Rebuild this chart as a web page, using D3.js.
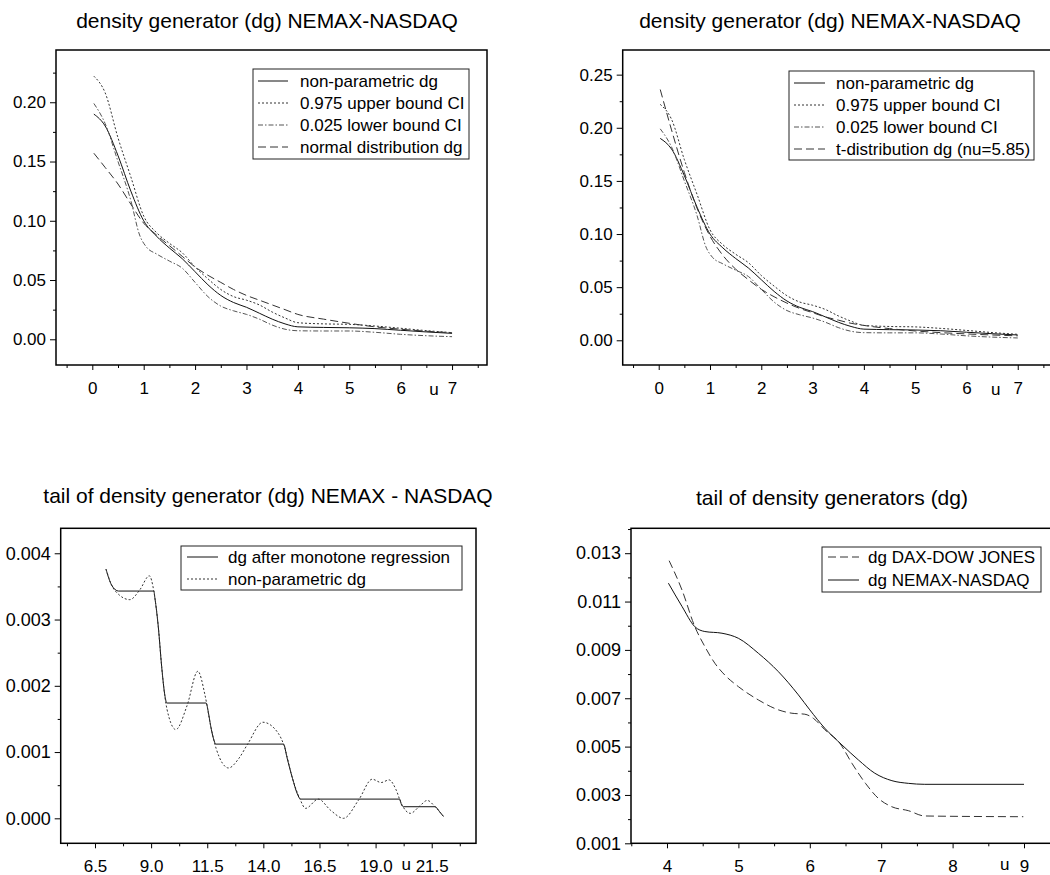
<!DOCTYPE html>
<html lang="en">
<head>
<meta charset="UTF-8">
<title>density generators NEMAX-NASDAQ</title>
<style>
  body { margin: 0; padding: 0; background: #fff; }
  svg { display: block; }
  text { font-family: "Liberation Sans", Arial, sans-serif; fill: #000; }
  .axis path { display: none; }
  .axis line { stroke: #000; }
  .axis text { font-size: 17px; font-family: "Liberation Sans", Arial, sans-serif; }
</style>
</head>
<body>
<div id="chart"></div>
<script src="https://d3js.org/d3.v7.min.js"></script>
<script>
// ---- data: top panels (density generator, u grid shared) ----
const uGrid = [0.03, 0.25, 0.5, 0.75, 1.0, 1.25, 1.5, 1.75, 2.0, 2.25, 2.5, 2.75, 3.0, 3.25, 3.5, 3.75, 4.0, 4.5, 5.0, 5.5, 6.0, 6.5, 7.0];
const npDg = [0.190, 0.180, 0.155, 0.125, 0.100, 0.087, 0.077, 0.068, 0.057, 0.046, 0.037, 0.031, 0.027, 0.022, 0.017, 0.013, 0.0105, 0.0100, 0.0097, 0.0090, 0.0076, 0.0062, 0.0050];
const upperCI = [0.222, 0.208, 0.170, 0.137, 0.104, 0.090, 0.081, 0.073, 0.061, 0.051, 0.042, 0.036, 0.033, 0.029, 0.023, 0.018, 0.0140, 0.0130, 0.0126, 0.0112, 0.0093, 0.0073, 0.0056];
const lowerU = [0.03, 0.25, 0.5, 0.75, 0.92, 1.05, 1.25, 1.5, 1.75, 2.0, 2.25, 2.5, 2.75, 3.0, 3.25, 3.5, 3.75, 4.0, 4.5, 5.0, 5.5, 6.0, 6.5, 7.0];
const lowerCI = [0.199, 0.182, 0.150, 0.117, 0.088, 0.078, 0.072, 0.066, 0.060, 0.048, 0.036, 0.028, 0.024, 0.021, 0.017, 0.012, 0.0085, 0.0072, 0.0070, 0.0070, 0.0059, 0.0042, 0.0030, 0.0022];
const normalDg = [0.157, 0.145, 0.131, 0.114, 0.098, 0.088, 0.079, 0.070, 0.061, 0.054, 0.048, 0.042, 0.037, 0.033, 0.029, 0.025, 0.021, 0.017, 0.0135, 0.0105, 0.0085, 0.0068, 0.0055];
const tDg = [0.236, 0.198, 0.158, 0.124, 0.098, 0.080, 0.067, 0.057, 0.048, 0.041, 0.035, 0.030, 0.026, 0.022, 0.019, 0.016, 0.014, 0.011, 0.0088, 0.0072, 0.0060, 0.0050, 0.0042];

// ---- data: tail NEMAX-NASDAQ ----
const monoU = [6.99, 7.24, 7.55, 9.12, 9.17, 9.32, 9.47, 9.62, 9.70, 11.45, 11.55, 11.65, 11.78, 11.88, 14.90, 15.05, 15.3, 15.5, 15.66, 20.07, 20.16, 20.25, 21.65, 21.85, 22.02];
const monoDg = [0.00376, 0.00352, 0.00343, 0.00343, 0.00332, 0.00289, 0.00229, 0.00184, 0.00174, 0.00174, 0.00160, 0.00140, 0.00120, 0.00112, 0.00112, 0.00092, 0.00060, 0.00038, 0.00029, 0.00029, 0.00020, 0.000175, 0.000175, 0.00010, 0.00003];
const tailU = [6.99, 7.24, 7.55, 8.05, 8.5, 8.92, 9.12, 9.32, 9.47, 9.62, 9.8, 10.1, 10.6, 11.08, 11.4, 11.65, 11.9, 12.45, 12.9, 13.3, 13.98, 14.65, 14.92, 15.3, 15.62, 15.88, 16.45, 17.0, 17.57, 18.25, 18.85, 19.25, 19.6, 19.9, 20.15, 20.55, 20.95, 21.3, 21.65, 22.02];
const tailNp = [0.00376, 0.00352, 0.00338, 0.00330, 0.00345, 0.00366, 0.00343, 0.00289, 0.00229, 0.00182, 0.00152, 0.00134, 0.00170, 0.00222, 0.00186, 0.00140, 0.00105, 0.00076, 0.00090, 0.00112, 0.00145, 0.00129, 0.00110, 0.00060, 0.00030, 0.00015, 0.00029, 0.00012, 0.00000, 0.00028, 0.00059, 0.00054, 0.00058, 0.00044, 0.00022, 0.000075, 0.00018, 0.00027, 0.000175, 0.00003];

// ---- data: tail comparison ----
const nemaxU = [4.02, 4.21, 4.39, 4.53, 4.77, 5.0, 5.28, 5.56, 5.84, 6.0, 6.21, 6.45, 6.68, 6.91, 7.15, 7.38, 7.61, 9.0];
const nemaxDg = [0.01176, 0.0108, 0.00996, 0.00976, 0.00969, 0.00948, 0.00886, 0.0081, 0.00714, 0.00652, 0.00576, 0.00507, 0.00445, 0.0039, 0.00359, 0.00348, 0.00344, 0.00344];
const daxU = [4.03, 4.21, 4.39, 4.53, 4.67, 4.81, 5.0, 5.28, 5.56, 5.75, 5.93, 6.05, 6.21, 6.42, 6.59, 6.78, 6.96, 7.15, 7.38, 7.61, 8.99];
const daxDg = [0.01269, 0.01148, 0.00996, 0.00914, 0.00845, 0.00796, 0.00748, 0.00693, 0.00652, 0.00638, 0.00634, 0.00617, 0.0057, 0.00514, 0.00431, 0.00348, 0.00286, 0.00251, 0.00235, 0.00213, 0.00210];

// ---- tick labels ----
const ticksTopX = [0, 1, 2, 3, 4, 5, 6, 7];
const ticksTopXMinor = [-0.5, 0.5, 1.5, 2.5, 3.5, 4.5, 5.5, 6.5, 7.5];
const ticksP1Y = [0, 0.05, 0.10, 0.15, 0.20];
const ticksP1YMinor = [0.025, 0.075, 0.125, 0.175, 0.225];
const ticksP2Y = [0, 0.05, 0.10, 0.15, 0.20, 0.25];
const ticksP2YMinor = [0.025, 0.075, 0.125, 0.175, 0.225];
const ticksP3X = [6.5, 9.0, 11.5, 14.0, 16.5, 19.0, 21.5];
const ticksP3XMinor = [5.25, 7.75, 10.25, 12.75, 15.25, 17.75, 20.25, 22.75];
const ticksP3Y = [0, 0.001, 0.002, 0.003, 0.004];
const ticksP3YMinor = [0.0005, 0.0015, 0.0025, 0.0035];
const ticksP4X = [4, 5, 6, 7, 8, 9];
const ticksP4XMinor = [3.5, 4.5, 5.5, 6.5, 7.5, 8.5];
const ticksP4Y = [0.001, 0.003, 0.005, 0.007, 0.009, 0.011, 0.013];
const ticksP4YMinor = [0.002, 0.004, 0.006, 0.008, 0.010, 0.012, 0.014];

const styles = {
  solid: { dash: null, color: "#111" },
  dotted: { dash: "2,2", color: "#333" },
  dashdot: { dash: "5,2,1.5,2", color: "#555" },
  dashed: { dash: "8,4", color: "#333" }
};

const svg = d3.select("#chart").append("svg")
  .attr("width", 1050).attr("height", 875);

function zip(xs, ys) { return xs.map((x, i) => [x, ys[i]]); }

function drawPanel(p) {
  const x = d3.scaleLinear().domain(p.xDomain).range([p.left, p.right]);
  const y = d3.scaleLinear().domain(p.yDomain).range([p.bottom, p.top]);
  const g = svg.append("g");

  g.append("text")
    .attr("x", p.titleX).attr("y", p.titleY)
    .attr("text-anchor", "middle")
    .style("font-size", "21px")
    .text(p.title);

  // axes
  const yAx = g.append("g").attr("class", "axis")
    .attr("transform", `translate(${p.left},0)`)
    .call(d3.axisLeft(y).tickValues(p.yTicks).tickSize(6).tickPadding(4).tickFormat(d3.format(p.yFmt)));
  yAx.selectAll("text").style("font-size", p.yFont + "px");
  g.append("g").attr("class", "axis")
    .attr("transform", `translate(${p.left},0)`)
    .call(d3.axisLeft(y).tickValues(p.yMinor).tickSize(3).tickFormat(""));
  g.append("g").attr("class", "axis")
    .attr("transform", `translate(0,${p.bottom})`)
    .call(d3.axisBottom(x).tickValues(p.xTicks).tickSize(5).tickPadding(12).tickFormat(d3.format(p.xFmt)));
  g.append("g").attr("class", "axis")
    .attr("transform", `translate(0,${p.bottom})`)
    .call(d3.axisBottom(x).tickValues(p.xMinor).tickSize(3).tickFormat(""));

  g.append("text")
    .attr("x", x(p.uAt)).attr("y", p.bottom + p.uDy)
    .attr("text-anchor", "middle")
    .style("font-size", "17px")
    .text("u");

  // curves
  const line = d3.line().x(d => x(d[0])).y(d => y(d[1])).curve(d3.curveMonotoneX);
  p.series.forEach(s => {
    const st = styles[s.style];
    g.append("path")
      .datum(zip(s.x, s.y))
      .attr("d", line)
      .attr("fill", "none")
      .attr("stroke", st.color)
      .attr("stroke-width", 1)
      .attr("stroke-dasharray", st.dash);
  });

  // frame
  g.append("rect")
    .attr("x", p.left).attr("y", p.top)
    .attr("width", p.right - p.left).attr("height", p.bottom - p.top)
    .attr("fill", "none").attr("stroke", "#000").attr("stroke-width", 1.5);

  // legend
  const L = p.legend;
  g.append("rect")
    .attr("x", L.x).attr("y", L.y).attr("width", L.w).attr("height", L.h)
    .attr("fill", "#fff").attr("stroke", "#222").attr("stroke-width", 1);
  p.series.forEach((s, i) => {
    const st = styles[s.style];
    const ry = L.rows[i];
    g.append("line")
      .attr("x1", L.x1).attr("x2", L.x2).attr("y1", ry).attr("y2", ry)
      .attr("stroke", st.color).attr("stroke-width", 1)
      .attr("stroke-dasharray", st.dash);
    g.append("text")
      .attr("x", L.tx).attr("y", ry + 6)
      .style("font-size", "17px")
      .text(s.name);
  });
}

drawPanel({
  title: "density generator (dg) NEMAX-NASDAQ", titleX: 267, titleY: 28,
  left: 56, right: 487, top: 50, bottom: 365,
  xDomain: [-0.7064, 7.680], yDomain: [-0.0217, 0.2441],
  xTicks: ticksTopX, xMinor: ticksTopXMinor, xFmt: "d",
  yTicks: ticksP1Y, yMinor: ticksP1YMinor, yFmt: ".2f", yFont: 17, uAt: 6.65, uDy: 30,
  series: [
    { name: "non-parametric dg", x: uGrid, y: npDg, style: "solid" },
    { name: "0.975 upper bound CI", x: uGrid, y: upperCI, style: "dotted" },
    { name: "0.025 lower bound CI", x: lowerU, y: lowerCI, style: "dashdot" },
    { name: "normal distribution dg", x: uGrid, y: normalDg, style: "dashed" }
  ],
  legend: { x: 253, y: 69, w: 216, h: 90, rows: [81, 103, 125, 147], x1: 258, x2: 288, tx: 300 }
});

drawPanel({
  title: "density generator (dg) NEMAX-NASDAQ", titleX: 830, titleY: 28,
  left: 622.7, right: 1053.7, top: 50, bottom: 365,
  xDomain: [-0.702, 7.701], yDomain: [-0.02325, 0.2732],
  xTicks: ticksTopX, xMinor: ticksTopXMinor, xFmt: "d",
  yTicks: ticksP2Y, yMinor: ticksP2YMinor, yFmt: ".2f", yFont: 17, uAt: 6.57, uDy: 30,
  series: [
    { name: "non-parametric dg", x: uGrid, y: npDg, style: "solid" },
    { name: "0.975 upper bound CI", x: uGrid, y: upperCI, style: "dotted" },
    { name: "0.025 lower bound CI", x: lowerU, y: lowerCI, style: "dashdot" },
    { name: "t-distribution dg (nu=5.85)", x: uGrid, y: tDg, style: "dashed" }
  ],
  legend: { x: 789, y: 71, w: 245, h: 89, rows: [83, 105, 127, 149], x1: 794, x2: 825, tx: 836 }
});

drawPanel({
  title: "tail of density generator (dg) NEMAX - NASDAQ", titleX: 268, titleY: 503,
  left: 60.7, right: 476, top: 528.3, bottom: 843.3,
  xDomain: [4.972, 23.473], yDomain: [-0.000377, 0.004377],
  xTicks: ticksP3X, xMinor: ticksP3XMinor, xFmt: ".1f",
  yTicks: ticksP3Y, yMinor: ticksP3YMinor, yFmt: ".3f", yFont: 18, uAt: 20.36, uDy: 27,
  series: [
    { name: "dg after monotone regression", x: monoU, y: monoDg, style: "solid" },
    { name: "non-parametric dg", x: tailU, y: tailNp, style: "dotted" }
  ],
  legend: { x: 181, y: 546, w: 281, h: 44, rows: [557, 579], x1: 187, x2: 218, tx: 228 }
});

drawPanel({
  title: "tail of density generators (dg)", titleX: 832, titleY: 505,
  left: 631, right: 1060, top: 528.3, bottom: 843.3,
  xDomain: [3.496, 9.504], yDomain: [0.001, 0.01403],
  xTicks: ticksP4X, xMinor: ticksP4XMinor, xFmt: "d",
  yTicks: ticksP4Y, yMinor: ticksP4YMinor, yFmt: ".3f", yFont: 18, uAt: 8.73, uDy: 27,
  series: [
    { name: "dg DAX-DOW JONES", x: daxU, y: daxDg, style: "dashed" },
    { name: "dg NEMAX-NASDAQ", x: nemaxU, y: nemaxDg, style: "solid" }
  ],
  legend: { x: 822, y: 547, w: 219, h: 45, rows: [557, 580], x1: 828, x2: 859, tx: 868 }
});
</script>
</body>
</html>
